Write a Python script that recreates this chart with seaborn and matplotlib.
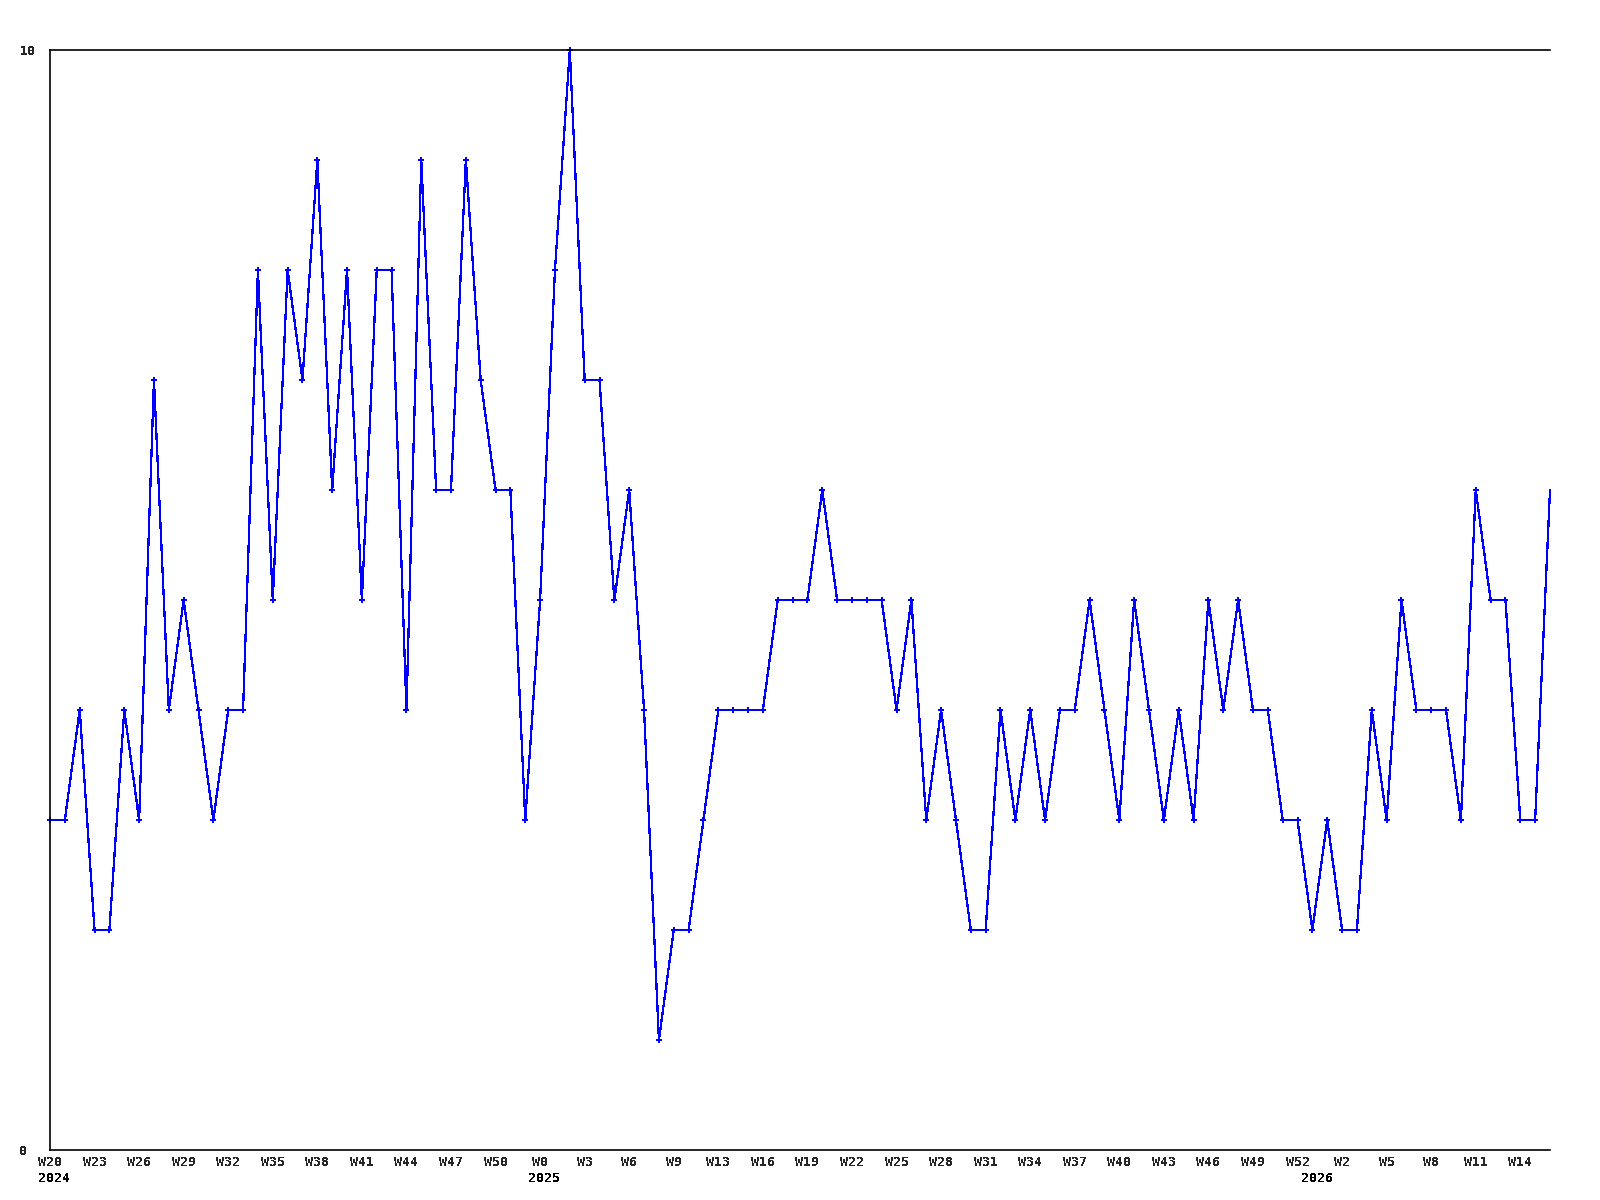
import matplotlib
matplotlib.use("Agg")
import matplotlib.pyplot as plt
import matplotlib.transforms as mtransforms
import seaborn as sns
import numpy as np
import pandas as pd

# ---- data ----
values = [3, 3, 4, 2, 2, 4, 3, 7, 4, 5,
          4, 3, 4, 4, 8, 5, 8, 7, 9, 6,
          8, 5, 8, 8, 4, 9, 6, 6, 9, 7,
          6, 6, 3, 5, 8, 10, 7, 7, 5, 6,
          4, 1, 2, 2, 3, 4, 4, 4, 4, 5,
          5, 5, 6, 5, 5, 5, 5, 4, 5, 3,
          4, 3, 2, 2, 4, 3, 4, 3, 4, 4,
          5, 4, 3, 5, 4, 3, 4, 3, 5, 4,
          5, 4, 4, 3, 3, 2, 3, 2, 2, 4,
          3, 5, 4, 4, 4, 3, 6, 5, 5, 3,
          3, 6]
week_labels = ["W20", "W23", "W26", "W29", "W32", "W35", "W38", "W41", "W44",
               "W47", "W50", "W0", "W3", "W6", "W9", "W13", "W16", "W19", "W22",
               "W25", "W28", "W31", "W34", "W37", "W40", "W43", "W46", "W49",
               "W52", "W2", "W5", "W8", "W11", "W14"]
year_labels = ["2024", "2025", "2026"]
year_positions = [0, 33, 85]
y_ticks = [0, 10]

df = pd.DataFrame({"idx": np.arange(len(values)), "value": values})

sns.set_style("white")
plt.rcParams["font.family"] = ["DejaVu Sans Mono", "DejaVu Sans"]
plt.rcParams["text.antialiased"] = False

FS = 9.5

fig = plt.figure(figsize=(16, 12), dpi=100)
ax = fig.add_axes([50 / 1600, 1 - 1150 / 1200, 1500 / 1600, 1100 / 1200])

sns.lineplot(data=df, x="idx", y="value", ax=ax, color="#0000ff",
             linewidth=0.9, marker="P", markersize=5, markeredgewidth=0,
             markevery=list(range(len(values) - 1)), clip_on=False,
             antialiased=False)

ax.set_xlim(0, len(values) - 1)
ax.set_ylim(0, 10)
ax.set_xlabel("")
ax.set_ylabel("")

ax.set_xticks(df["idx"].values[::3])
ax.set_xticklabels(week_labels, fontsize=FS, fontweight="bold")
ax.set_yticks(y_ticks)
ax.set_yticklabels([str(t) for t in y_ticks], fontsize=FS, fontweight="bold")
for lbl in ax.get_yticklabels():
    lbl.set_horizontalalignment("left")
ax.tick_params(axis="y", length=0, pad=22)
ax.tick_params(axis="x", length=0, pad=4)

for s in ["left", "bottom", "top"]:
    ax.spines[s].set_visible(True)
    ax.spines[s].set_color("black")
    ax.spines[s].set_linewidth(1.2)
ax.spines["right"].set_visible(False)
ax.grid(False)

trans = mtransforms.blended_transform_factory(ax.transData, fig.transFigure)
for pos, yl in zip(year_positions, year_labels):
    ax.text(pos + 0.3, 1 - 1178 / 1200, yl, transform=trans, ha="center",
            va="center", fontsize=FS, fontweight="bold", color="black",
            clip_on=False)

fig.savefig("out.png", dpi=100, facecolor="white")
